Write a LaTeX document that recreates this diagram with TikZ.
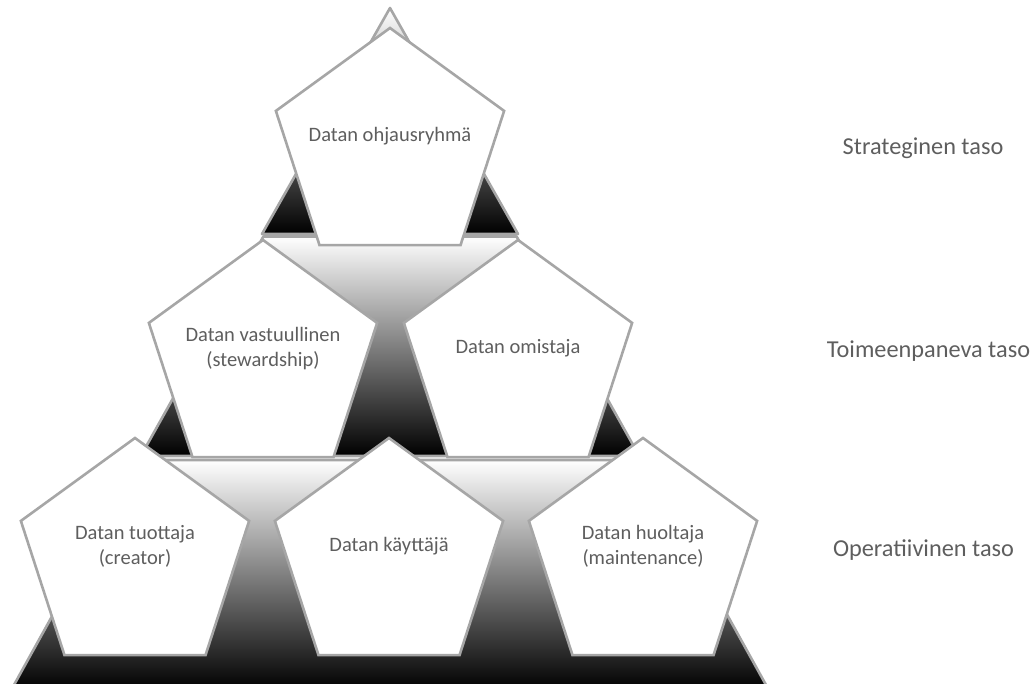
\documentclass[tikz,border=0pt]{standalone}
\usepackage{fontspec}
\setmainfont{Carlito}
\usetikzlibrary{shapes.geometric}
\definecolor{edgegray}{HTML}{A6A6A6}
\definecolor{txtgray}{HTML}{5E5E5E}
\tikzset{
  seg/.style={draw=edgegray, line width=2.6pt, line join=round, top color=white, bottom color=black},
  pent/.style={regular polygon, regular polygon sides=5, minimum size=240pt, inner sep=0pt,
    draw=edgegray, line width=2.6pt, fill=white},
  lbl/.style={text=txtgray, align=center, inner sep=0pt, font=\fontsize{20.5}{25.5}\selectfont},
  lvl/.style={text=txtgray, inner sep=0pt, font=\fontsize{24.3}{29}\selectfont},
}
\begin{document}
\begin{tikzpicture}[x=1pt,y=-1pt]
\useasboundingbox (0,0) rectangle (1033,684);
% pyramid levels (edge slope 0.565 from apex at (390,8))
\path[seg] (390,8) -- (518.0,234) -- (262.0,234) -- cycle;
\path[seg] (263.4,236.5) -- (516.6,236.5) -- (639.2,456) -- (140.8,456) -- cycle;
\path[seg] (138.6,460) -- (641.4,460) -- (768.8,690) -- (11.2,690) -- cycle;
% pentagons
\node[pent] (p1) at (390,148) {};
\node[pent] (p2) at (263,360) {};
\node[pent] (p3) at (518,360) {};
\node[pent] (p4) at (135,558) {};
\node[pent] (p5) at (389,558) {};
\node[pent] (p6) at (643,558) {};
% pentagon texts
\node[lbl] (t1) at (390,136.5) {Datan ohjausryhmä};
\node[lbl] (t2) at (263,348.5) {Datan vastuullinen\\(stewardship)};
\node[lbl] (t3) at (518,348.5) {Datan omistaja};
\node[lbl] (t4) at (135,546.5) {Datan tuottaja\\(creator)};
\node[lbl] (t5) at (389,546.5) {Datan käyttäjä};
\node[lbl] (t6) at (643,546.5) {Datan huoltaja\\(maintenance)};
% level names
\node[lvl] (l1) at (923,148) {Strateginen taso};
\node[lvl] (l2) at (928.5,351) {Toimeenpaneva taso};
\node[lvl] (l3) at (923.5,550) {Operatiivinen taso};
\end{tikzpicture}
\end{document}
